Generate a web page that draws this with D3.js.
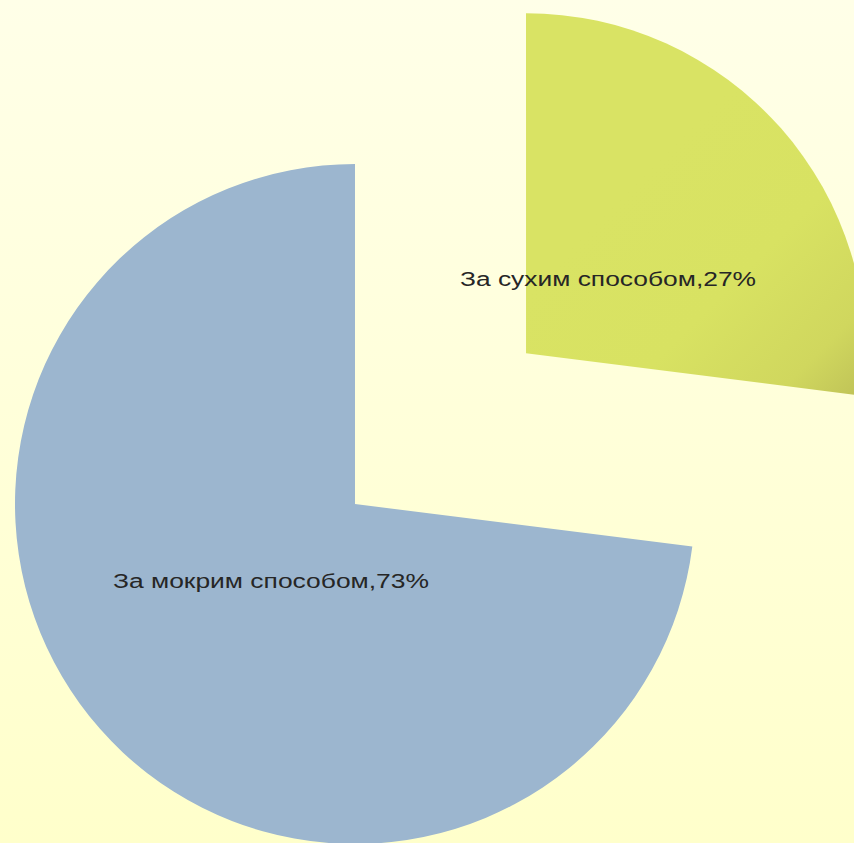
<!DOCTYPE html>
<html>
<head>
<meta charset="utf-8">
<script src="https://cdn.jsdelivr.net/npm/d3@7"></script>
<style>
  html, body { margin: 0; padding: 0; }
  body { width: 854px; height: 843px; overflow: hidden; }
</style>
</head>
<body>
<svg id="chart" width="854" height="843"></svg>
<script>
// Способи прибирання — частки у відсотках
const categories = ["За сухим способом", "За мокрим способом"];
const shares = [27, 73];
const labels = ["За сухим способом,27%", "За мокрим способом,73%"];
const exploded = [true, false];

const W = 854, H = 843;
const cx = 355, cy = 504, radius = 340, explodeDist = 228;

const svg = d3.select("#chart");
const defs = svg.append("defs");

// Background wash: pale cream at the top, warmer yellow lower down
const bg = defs.append("linearGradient").attr("id", "bg")
  .attr("x1", 0).attr("y1", 0).attr("x2", 0).attr("y2", 1);
bg.append("stop").attr("offset", "0%").attr("stop-color", "#FFFFE8");
bg.append("stop").attr("offset", "100%").attr("stop-color", "#FFFFCB");
svg.append("rect").attr("width", W).attr("height", H).attr("fill", "url(#bg)");

// Slice fills: the dry slice darkens softly towards its lower-right corner
const dry = defs.append("linearGradient").attr("id", "dryFill")
  .attr("gradientUnits", "userSpaceOnUse")
  .attr("x1", 110).attr("y1", -170).attr("x2", 330).attr("y2", 50);
dry.append("stop").attr("offset", "0%").attr("stop-color", "#D9E364");
dry.append("stop").attr("offset", "45%").attr("stop-color", "#D8E262");
dry.append("stop").attr("offset", "80%").attr("stop-color", "#D0D75E");
dry.append("stop").attr("offset", "100%").attr("stop-color", "#BFC257");

const fills = ["url(#dryFill)", "#9CB6CF"];

const pie = d3.pie().sort(null).value(d => d);
const arcs = pie(shares);
const arc = d3.arc().innerRadius(0).outerRadius(radius);

const g = svg.append("g").attr("transform", `translate(${cx},${cy})`);

const slices = g.selectAll("g.slice")
  .data(arcs)
  .join("g")
  .attr("class", "slice")
  .attr("transform", (d, i) => {
    if (!exploded[i]) return null;
    const mid = (d.startAngle + d.endAngle) / 2;
    return `translate(${explodeDist * Math.sin(mid)},${-explodeDist * Math.cos(mid)})`;
  });

slices.append("path")
  .attr("d", arc)
  .attr("fill", (d, i) => fills[i]);

// Data labels
const labelPos = [
  { x: 460, y: 286, len: 296 },
  { x: 113, y: 588, len: 316 }
];
svg.selectAll("text.lbl")
  .data(labels)
  .join("text")
  .attr("class", "lbl")
  .attr("x", (d, i) => labelPos[i].x)
  .attr("y", (d, i) => labelPos[i].y)
  .attr("textLength", (d, i) => labelPos[i].len)
  .attr("lengthAdjust", "spacingAndGlyphs")
  .attr("font-family", "Liberation Sans, Arial, sans-serif")
  .attr("font-size", 20)
  .attr("fill", "#262626")
  .text(d => d);
</script>
</body>
</html>
